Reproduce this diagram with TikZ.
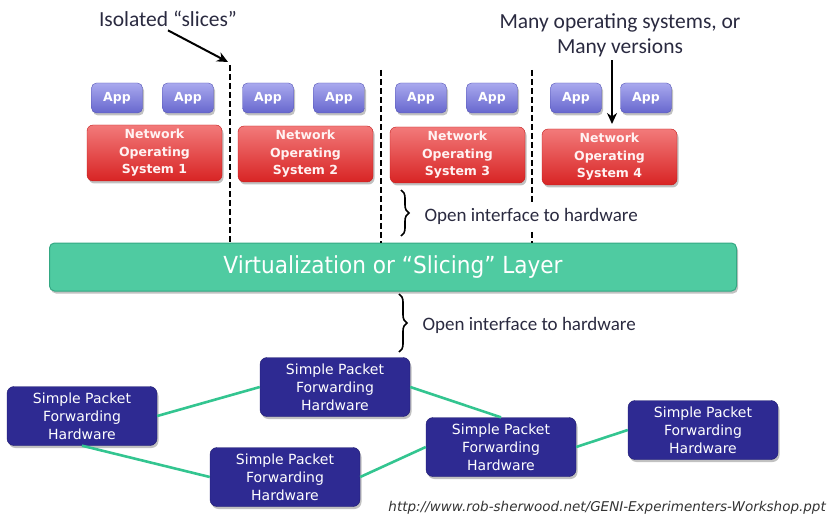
\documentclass[tikz,border=0pt]{standalone}
\usepackage{fontspec}
\setmainfont{Carlito}
\newfontfamily\boxfont{DejaVu Sans}
\newfontfamily\barfont[FakeStretch=0.92]{DejaVu Sans}
\usepackage{xcolor}
\usetikzlibrary{arrows.meta,positioning,calc,shadows}
\usetikzlibrary{decorations.pathreplacing}

\definecolor{apptop}{HTML}{A9A9EE}
\definecolor{appbot}{HTML}{6767CE}
\definecolor{appline}{HTML}{5656B6}
\definecolor{nostop}{HTML}{F27A7A}
\definecolor{nosbot}{HTML}{D82424}
\definecolor{nosline}{HTML}{C21B1B}
\definecolor{slicefill}{HTML}{4FCBA1}
\definecolor{sliceline}{HTML}{34A883}
\definecolor{hwfill}{HTML}{2E2A92}
\definecolor{hwline}{HTML}{1E1A6E}
\definecolor{linkcol}{HTML}{33C590}
\definecolor{notecol}{HTML}{2A2A40}

\begin{document}
\begin{tikzpicture}
[x=1pt, y=-1pt, >={Stealth[length=11pt,width=10pt]},
shade/.style={drop shadow={shadow xshift=1.5pt, shadow yshift=-2.5pt, opacity=0.35, fill=black!70}},
app/.style={rounded corners=5pt, draw=appline, top color=apptop, bottom color=appbot,
  minimum width=51pt, minimum height=30pt, inner sep=0pt, text=white, shade,
  font=\boxfont\bfseries\fontsize{12.5}{15}\selectfont},
nos/.style={rounded corners=6pt, draw=nosline, top color=nostop, bottom color=nosbot,
  minimum width=135pt, minimum height=56pt, inner sep=0pt, align=center, text=red!5, shade,
  font=\boxfont\bfseries\fontsize{12.5}{17.5}\selectfont},
slicebar/.style={rounded corners=5pt, draw=sliceline, line width=1pt, fill=slicefill,
  minimum width=687pt, minimum height=48pt, text=white, shade,
  font=\barfont\fontsize{23.5}{26}\selectfont},
hw/.style={rounded corners=7pt, draw=hwline, fill=hwfill, minimum width=150pt,
  minimum height=59pt, inner sep=0pt, align=center, text=white, shade,
  font=\boxfont\fontsize{14}{18}\selectfont},
note/.style={text=notecol, font=\fontsize{19}{24}\selectfont},
callout/.style={text=notecol, font=\fontsize{21.5}{25}\selectfont},
sep/.style={line width=2.2pt, dash pattern=on 6pt off 3pt},
brace/.style={decorate, decoration={brace, amplitude=8pt}, line width=1.6pt},
link/.style={linkcol, line width=2.6pt},
pointer/.style={->, line width=2pt}]

\useasboundingbox (0,0) rectangle (828,516);

% applications on top of each slice
\node (app1) at (117,98) [app] {App};
\node (app2) at (188,98) [app] {App};
\node (app3) at (268,98) [app] {App};
\node (app4) at (339,98) [app] {App};
\node (app5) at (421,98) [app] {App};
\node (app6) at (492,98) [app] {App};
\node (app7) at (576,98) [app] {App};
\node (app8) at (646,98) [app] {App};

% one NOS per slice
\node (nos1) at (154.5,153) [nos] {Network\\Operating\\System 1};
\node (nos2) at (305.5,154) [nos] {Network\\Operating\\System 2};
\node (nos3) at (457.5,155) [nos] {Network\\Operating\\System 3};
\node (nos4) at (609.5,157) [nos] {Network\\Operating\\System 4};

\node (bar) at (393,267) [slicebar] {Virtualization or “Slicing” Layer};

% slice boundaries
\coordinate (s1) at (230,65);
\coordinate (s2) at (381,70);
\coordinate (s3) at (532,70);
\draw[sep] (s1) -- (s1 |- bar.north);
\draw[sep] (s2) -- (s2 |- bar.north);
\draw[sep] (s3) -- (s3 |- bar.north);

% hardware
\node (hw1) at (82,416) [hw] {Simple Packet\\Forwarding\\Hardware};
\node (hw2) at (335,387) [hw] {Simple Packet\\Forwarding\\Hardware};
\node (hw3) at (285,477) [hw] {Simple Packet\\Forwarding\\Hardware};
\node (hw4) at (501,447) [hw] {Simple Packet\\Forwarding\\Hardware};
\node (hw5) at (703,430) [hw] {Simple Packet\\Forwarding\\Hardware};

\draw[link] (hw1.east) -- (hw2.west);
\draw[link] (hw1.south) -- (hw3.west);
\draw[link] (hw2.east) -- (hw4.north);
\draw[link] (hw3.east) -- (hw4.west);
\draw[link] (hw4.east) -- (hw5.west);

% interfaces
\coordinate (b1a) at (401,190);
\coordinate (b1b) at (401,236);
\coordinate (b2a) at (399,294);
\coordinate (b2b) at (399,352);
\draw[brace] (b1a) -- (b1b);
\draw[brace] (b2a) -- (b2b);
\node (open1) at (421,216) [note, anchor=west, fill=white, inner ysep=5pt] {Open interface to hardware};
\node (open2) at (419,325) [note, anchor=west] {Open interface to hardware};

% callouts
\node (slices) at (168,19) [callout] {Isolated “slices”};
\draw[pointer] (slices.south) -- ($(s1)+(-2,-3)$);
\node (many) at (620,35) [callout, align=center] {Many operating systems, or\\Many versions};
\coordinate (mv) at (612,124);
\draw[pointer] (many.south -| mv) -- (mv);

\node (src) at (826,508) [anchor=east, inner sep=0pt, text=black!80,
  font=\boxfont\itshape\fontsize{13.5}{15}\selectfont]
  {http://www.rob-sherwood.net/GENI-Experimenters-Workshop.ppt};
\end{tikzpicture}
\end{document}
